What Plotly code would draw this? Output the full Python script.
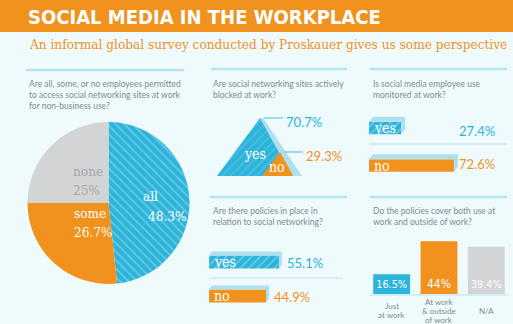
import plotly.graph_objects as go

W, H = 513, 324

# ---------------- data ----------------
title = "SOCIAL MEDIA IN THE WORKPLACE"
subtitle = "An informal global survey conducted by Proskauer gives us some perspective"

q_access = "Are all, some, or no employees permitted<br>to access social networking sites at work<br>for non-business use?"
access_labels = ["all", "some", "none"]
access_values = [48.3, 26.7, 25.0]

q_blocked = "Are social networking sites actively<br>blocked at work?"
blocked_labels = ["yes", "no"]
blocked_values = [70.7, 29.3]

q_monitored = "Is social media employee use<br>monitored at work?"
monitored_labels = ["yes", "no"]
monitored_values = [27.4, 72.6]

q_policies = "Are there policies in place in<br>relation to social networking?"
policies_labels = ["yes", "no"]
policies_values = [55.1, 44.9]

q_cover = "Do the policies cover both use at<br>work and outside of work?"
cover_labels = ["Just<br>at work", "At work<br>& outside<br>of work", "N/A"]
cover_values = [16.5, 44.0, 39.4]

# ---------------- style ----------------
BG = "#effafd"
ORANGE = "#f0921d"
BLUE = "#2db4da"
BLUE_STRIPE = "#68c8e6"
BLUE_PALE = "#aee0f0"
GRAY = "#d3d4d5"
GRAY_TXT = "#a4a6a7"
Q_TXT = "#7f8a8f"
LINE = "#b6e3f1"
SANS = "Lato, 'Open Sans', sans-serif"
SLAB = "'DejaVu Serif Condensed', 'DejaVu Serif', serif"
COND = "'DejaVu Sans Condensed', 'DejaVu Sans', sans-serif"
STRIPES = dict(fgcolor=BLUE_STRIPE, bgcolor=BLUE, size=6, solidity=0.3)


def pxx(x):
    return x / W


def pxy(y):
    return 1 - y / H


def dom_x(a, b):
    return [a / W, b / W]


def dom_y(top, bottom):
    return [1 - bottom / H, 1 - top / H]


def pct(v):
    return f"{v:g}%"


fig = go.Figure()
annotations = []
shapes = []

# title band
shapes.append(dict(type="rect", xref="paper", yref="paper", x0=0, x1=1,
                   y0=pxy(32), y1=1, fillcolor=ORANGE, line=dict(width=0), layer="below"))
annotations.append(dict(text=title, xref="paper", yref="paper", x=pxx(26), y=pxy(17),
                        xanchor="left", yanchor="middle", showarrow=False,
                        font=dict(family=COND, size=20, color="white", weight="bold")))
annotations.append(dict(text=subtitle, xref="paper", yref="paper", x=pxx(27), y=pxy(44),
                        xanchor="left", yanchor="middle", showarrow=False,
                        font=dict(family=SLAB, size=13.5, color=ORANGE)))

# panel top lines
for (x0, x1, y) in [(26, 184, 70), (211, 347, 69), (370, 507, 69), (210, 347, 197), (370, 507, 197)]:
    shapes.append(dict(type="line", xref="paper", yref="paper", x0=pxx(x0), x1=pxx(x1),
                       y0=pxy(y), y1=pxy(y), line=dict(color=LINE, width=2.5)))

# questions
for (q, x, y) in [(q_access, 27, 77), (q_blocked, 211, 77), (q_monitored, 371, 77),
                  (q_policies, 211, 204), (q_cover, 371, 204)]:
    annotations.append(dict(text=q, xref="paper", yref="paper", x=pxx(x), y=pxy(y),
                            xanchor="left", yanchor="top", align="left", showarrow=False,
                            font=dict(family=SANS, size=8.5, color=Q_TXT)))

# ---------------- panel 1: pie ----------------
fig.add_trace(go.Pie(
    labels=access_labels, values=access_values, sort=False, direction="clockwise", rotation=0,
    marker=dict(colors=[BLUE, ORANGE, GRAY], line=dict(width=0),
                pattern=dict(shape=["\\", "", ""], fgcolor=[BLUE_STRIPE, ORANGE, GRAY],
                             bgcolor=[BLUE, ORANGE, GRAY], size=6, solidity=0.3)),
    textinfo="none", hoverinfo="skip", showlegend=False,
    domain=dict(x=dom_x(25, 192), y=dom_y(122, 284))))

pie_label_pos = [(141, 196, 146, 216), (72, 223, 72, 242), (71, 171, 71, 190)]
pie_label_col = ["white", "white", GRAY_TXT]
for lab, v, (lx, ly, vx, vy), c in zip(access_labels, access_values, pie_label_pos, pie_label_col):
    annotations.append(dict(text=lab, xref="paper", yref="paper", x=pxx(lx), y=pxy(ly),
                            showarrow=False, font=dict(family=SLAB, size=13.5, color=c)))
    annotations.append(dict(text=pct(v), xref="paper", yref="paper", x=pxx(vx), y=pxy(vy),
                            showarrow=False, font=dict(family=SLAB, size=13.5, color=c)))

# ---------------- panel 2: triangles ----------------
TRI_PX_PER_PCT = 0.82
tri_apex_x = [260, 280]
tri_label_x = [284, 304]
tri_colors = [BLUE, ORANGE]
tri_text_pos = [(255, 154), (277, 167)]
tri_val_col = [BLUE, ORANGE]
for i, (lab, v) in enumerate(zip(blocked_labels, blocked_values)):
    A = tri_apex_x[i]
    L = A - 0.608 * v
    R = A + 0.453 * v
    # side (thickness) face
    fig.add_trace(go.Scatter(x=[A, A + 3, R + 0.127 * v + 1, R, A], y=[v, v, 0, 0, v],
                             fill="toself", fillcolor=BLUE_PALE, mode="lines", line=dict(width=0),
                             hoverinfo="skip", showlegend=False, xaxis="x2", yaxis="y2"))
    kw = {}
    if i == 0:
        kw["fillpattern"] = dict(shape="/", **STRIPES)
    fig.add_trace(go.Scatter(x=[L, A, R, L], y=[0, v, 0, 0], fill="toself",
                             fillcolor=tri_colors[i], mode="lines", line=dict(width=0),
                             hoverinfo="skip", showlegend=False, xaxis="x2", yaxis="y2", **kw))
    # leader line
    fig.add_trace(go.Scatter(x=[A + 4, tri_label_x[i] - 1], y=[v, v], mode="lines",
                             line=dict(color="#7fd0ea", width=1.5), hoverinfo="skip",
                             showlegend=False, xaxis="x2", yaxis="y2"))
    annotations.append(dict(text=pct(v), xref="x2", yref="y2", x=tri_label_x[i], y=v,
                            xanchor="left", yanchor="middle", yshift=-4, showarrow=False,
                            font=dict(family=SANS, size=13, color=tri_val_col[i])))
    tx, ty = tri_text_pos[i]
    annotations.append(dict(text=lab, xref="paper", yref="paper", x=pxx(tx), y=pxy(ty),
                            showarrow=False, font=dict(family=SLAB, size=14, color="white")))


# ---------------- horizontal bar helper ----------------
def hbars(labels, values, xa, ya, px_per, centers, width, dxp, dyp, colors):
    dxu = dxp / px_per
    for lab, v, c, col in zip(labels, values, centers, colors):
        yb, yt = c - width / 2, c + width / 2
        fig.add_trace(go.Scatter(
            x=[0, dxu, v + dxu, v + dxu, v, v, 0], y=[yt, yt + dyp, yt + dyp, yb + dyp, yb, yt, yt],
            fill="toself", fillcolor=BLUE_PALE, mode="lines", line=dict(width=0),
            hoverinfo="skip", showlegend=False, xaxis=xa, yaxis=ya))
        mk = dict(color=col, line=dict(width=0))
        if col == BLUE:
            mk["pattern"] = dict(shape="/", fillmode="overlay", fgcolor=BLUE_STRIPE,
                                 fgopacity=1, size=6, solidity=0.3)
        fig.add_trace(go.Bar(x=[v], y=[c], orientation="h", width=width, base=0, marker=mk,
                             hoverinfo="skip", showlegend=False, xaxis=xa, yaxis=ya))


# panel 3: monitored
P3_PX = 1.17
p3_centers = [52, 14.5]
hbars(monitored_labels, monitored_values, "x3", "y3", P3_PX, p3_centers, 12.5, 4, 5, [BLUE, ORANGE])
shapes.append(dict(type="line", xref="paper", yref="paper", x0=pxx(369), x1=pxx(507),
                   y0=pxy(144), y1=pxy(144), line=dict(color=LINE, width=1)))
for lab, v, c, col, vy in zip(monitored_labels, monitored_values, p3_centers, [BLUE, ORANGE], [131, 164]):
    annotations.append(dict(text=lab, xref="paper", yref="y3", x=pxx(372), y=c, xanchor="left",
                            yanchor="middle", showarrow=False,
                            font=dict(family=SLAB, size=14, color="white")))
    annotations.append(dict(text=pct(v), xref="paper", yref="paper", x=pxx(497), y=pxy(vy),
                            xanchor="right", yanchor="middle", showarrow=False,
                            font=dict(family=SANS, size=13, color=col)))

# panel 5: policies in place
P5_PX = 1.27
p5_centers = [48, 14]
hbars(policies_labels, policies_values, "x4", "y4", P5_PX, p5_centers, 13, 3, 4, [BLUE, ORANGE])
shapes.append(dict(type="line", xref="paper", yref="paper", x0=pxx(209), x1=pxx(343),
                   y0=pxy(278), y1=pxy(278), line=dict(color=LINE, width=1)))
for lab, v, c, col in zip(policies_labels, policies_values, p5_centers, [BLUE, ORANGE]):
    annotations.append(dict(text=lab, xref="paper", yref="y4", x=pxx(212), y=c, xanchor="left",
                            yanchor="middle", showarrow=False,
                            font=dict(family=SLAB, size=14, color="white")))
    annotations.append(dict(text=pct(v), xref="x4", yref="y4", x=v + 6 / P5_PX, y=c,
                            xanchor="left", yanchor="middle", yshift=-1, showarrow=False,
                            font=dict(family=SANS, size=13, color=col)))

# panel 6: vertical bars
P6_PX = 1.2
cover_x = list(range(len(cover_values)))
fig.add_trace(go.Bar(x=cover_x, y=cover_values, width=0.78,
                     marker=dict(color=[BLUE, ORANGE, GRAY], line=dict(width=0)),
                     text=[pct(v) for v in cover_values], textposition="inside",
                     insidetextanchor="start", textangle=0,
                     textfont=dict(family=COND, size=12, color="white"),
                     hoverinfo="skip", showlegend=False, xaxis="x5", yaxis="y5"))
shapes.append(dict(type="line", xref="paper", yref="paper", x0=pxx(370), x1=pxx(507),
                   y0=pxy(295), y1=pxy(295), line=dict(color=LINE, width=1)))
for i, lab in zip(cover_x, cover_labels):
    lines = lab.split("<br>")
    n = len(lines)
    for k, ln in enumerate(lines):
        yc = 310.5 + (k - (n - 1) / 2) * 9
        annotations.append(dict(text=ln, xref="x5", yref="paper", x=i, y=pxy(yc),
                                yanchor="middle", align="center", showarrow=False,
                                font=dict(family=SANS, size=8, color=Q_TXT)))

hidden = dict(visible=False, fixedrange=True)
fig.update_layout(
    width=W, height=H, autosize=False, margin=dict(l=0, r=0, t=0, b=0),
    paper_bgcolor=BG, plot_bgcolor="rgba(0,0,0,0)",
    xaxis2=dict(domain=dom_x(200, 350), range=[200, 350], anchor="y2", **hidden),
    yaxis2=dict(domain=dom_y(96, 176), range=[0, 80 / TRI_PX_PER_PCT], anchor="x2", **hidden),
    xaxis3=dict(domain=dom_x(369, 489), range=[0, 120 / P3_PX], anchor="y3", **hidden),
    yaxis3=dict(domain=dom_y(110, 180), range=[0, 70], anchor="x3", **hidden),
    xaxis4=dict(domain=dom_x(209, 339), range=[0, 130 / P5_PX], anchor="y4", **hidden),
    yaxis4=dict(domain=dom_y(240, 310), range=[0, 70], anchor="x4", **hidden),
    xaxis5=dict(domain=dom_x(368, 510), range=[-0.5, 2.5], anchor="y5", **hidden),
    yaxis5=dict(domain=dom_y(230, 294), range=[0, 64 / P6_PX], anchor="x5", **hidden),
    xaxis=dict(visible=False), yaxis=dict(visible=False),
    barmode="overlay",
    annotations=annotations, shapes=shapes,
)

fig.write_html("out.html")
